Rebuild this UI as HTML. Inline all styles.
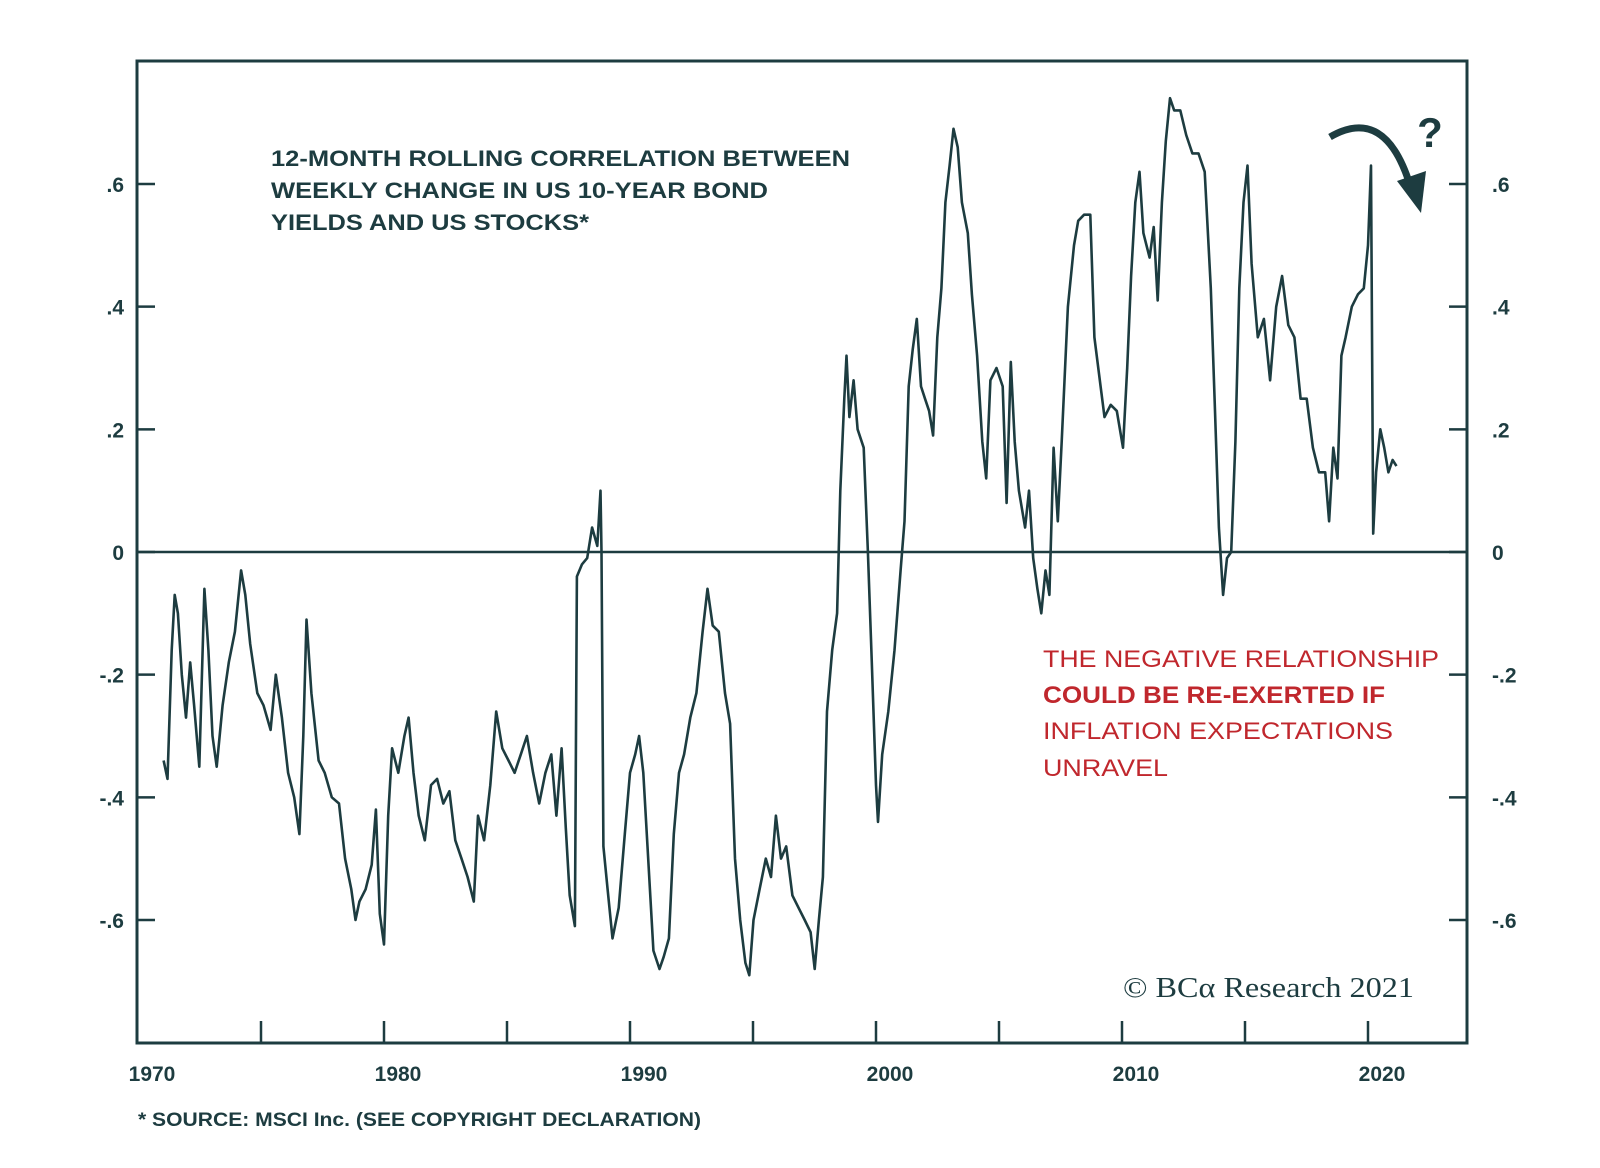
<!DOCTYPE html>
<html><head><meta charset="utf-8"><style>
html,body{margin:0;padding:0;background:#fff;}
svg{display:block;}
</style></head><body>
<svg id="chart" width="1600" height="1168" viewBox="0 0 1600 1168" xmlns="http://www.w3.org/2000/svg">
<g id="axes"></g>
<g id="series"></g>
<text x="271" y="166" font-family="Liberation Sans, sans-serif" font-weight="bold" font-size="22" fill="#1d3c40" textLength="579" lengthAdjust="spacingAndGlyphs">12-MONTH ROLLING CORRELATION BETWEEN</text>
<text x="271" y="198" font-family="Liberation Sans, sans-serif" font-weight="bold" font-size="22" fill="#1d3c40" textLength="497" lengthAdjust="spacingAndGlyphs">WEEKLY CHANGE IN US 10-YEAR BOND</text>
<text x="271" y="230" font-family="Liberation Sans, sans-serif" font-weight="bold" font-size="22" fill="#1d3c40" textLength="318" lengthAdjust="spacingAndGlyphs">YIELDS AND US STOCKS*</text>
<g font-family="Liberation Sans, sans-serif" font-size="24" fill="#c0272d">
<text x="1043" y="667" textLength="396" lengthAdjust="spacingAndGlyphs">THE NEGATIVE RELATIONSHIP</text>
<text x="1043" y="703" font-weight="bold" textLength="342" lengthAdjust="spacingAndGlyphs">COULD BE RE-EXERTED IF</text>
<text x="1043" y="739" textLength="350" lengthAdjust="spacingAndGlyphs">INFLATION EXPECTATIONS</text>
<text x="1043" y="776" textLength="125" lengthAdjust="spacingAndGlyphs">UNRAVEL</text>
</g>
<text x="1123" y="997" font-family="Liberation Serif, serif" font-size="29" fill="#1d3c40" textLength="291" lengthAdjust="spacingAndGlyphs">© BCα Research 2021</text>
<text x="138" y="1126" font-family="Liberation Sans, sans-serif" font-weight="bold" font-size="19" fill="#1d3c40" textLength="563" lengthAdjust="spacingAndGlyphs">* SOURCE: MSCI Inc. (SEE COPYRIGHT DECLARATION)</text>
<path d="M1330,137 Q1385,105 1410,185" fill="none" stroke="#1d3c40" stroke-width="7"/>
<polygon points="1397,181 1426,171 1421,213" fill="#1d3c40"/>
<text x="1430" y="147" text-anchor="middle" font-family="Liberation Sans, sans-serif" font-weight="bold" font-size="42" fill="#1d3c40">?</text>
</svg>
<script>
const years = [1971.04,1971.20,1971.37,1971.49,1971.62,1971.78,1971.95,1972.12,1972.28,1972.49,1972.70,1972.86,1973.03,1973.20,1973.44,1973.69,1973.94,1974.19,1974.36,1974.56,1974.85,1975.10,1975.39,1975.60,1975.85,1976.10,1976.35,1976.56,1976.72,1976.85,1977.05,1977.34,1977.59,1977.88,1978.17,1978.42,1978.67,1978.84,1979.00,1979.25,1979.50,1979.67,1979.83,1980.00,1980.17,1980.33,1980.58,1980.83,1981.00,1981.20,1981.41,1981.66,1981.91,1982.16,1982.41,1982.66,1982.90,1983.15,1983.40,1983.65,1983.82,1984.07,1984.32,1984.56,1984.81,1985.06,1985.31,1985.56,1985.81,1986.06,1986.31,1986.56,1986.80,1987.01,1987.22,1987.39,1987.55,1987.76,1987.84,1988.05,1988.26,1988.46,1988.67,1988.80,1988.84,1988.92,1989.09,1989.29,1989.54,1989.79,1990.00,1990.21,1990.37,1990.54,1990.71,1990.95,1991.20,1991.37,1991.58,1991.78,1991.99,1992.20,1992.45,1992.70,1992.95,1993.15,1993.36,1993.61,1993.86,1994.07,1994.27,1994.48,1994.69,1994.85,1995.02,1995.27,1995.52,1995.73,1995.93,1996.14,1996.35,1996.60,1996.85,1997.10,1997.34,1997.51,1997.68,1997.84,1998.01,1998.22,1998.42,1998.55,1998.71,1998.80,1998.92,1999.09,1999.25,1999.50,1999.67,1999.83,2000.00,2000.08,2000.25,2000.50,2000.75,2001.00,2001.16,2001.33,2001.49,2001.66,2001.83,2001.99,2002.16,2002.32,2002.49,2002.66,2002.82,2002.99,2003.15,2003.32,2003.49,2003.73,2003.90,2004.11,2004.32,2004.48,2004.65,2004.90,2005.15,2005.31,2005.48,2005.64,2005.81,2006.06,2006.22,2006.39,2006.56,2006.72,2006.89,2007.05,2007.22,2007.39,2007.55,2007.80,2008.05,2008.22,2008.46,2008.71,2008.88,2009.13,2009.29,2009.54,2009.79,2010.04,2010.21,2010.37,2010.54,2010.71,2010.87,2011.12,2011.29,2011.45,2011.62,2011.78,2011.95,2012.12,2012.37,2012.61,2012.86,2013.11,2013.36,2013.61,2013.78,2013.94,2014.11,2014.27,2014.44,2014.61,2014.77,2014.94,2015.10,2015.27,2015.52,2015.77,2016.02,2016.27,2016.51,2016.76,2017.01,2017.26,2017.51,2017.76,2018.01,2018.26,2018.42,2018.59,2018.76,2018.92,2019.09,2019.34,2019.59,2019.83,2020.00,2020.12,2020.21,2020.33,2020.50,2020.66,2020.83,2021.00,2021.16];
const correlation = [-0.34,-0.37,-0.16,-0.07,-0.10,-0.20,-0.27,-0.18,-0.25,-0.35,-0.06,-0.16,-0.30,-0.35,-0.25,-0.18,-0.13,-0.03,-0.07,-0.15,-0.23,-0.25,-0.29,-0.20,-0.27,-0.36,-0.40,-0.46,-0.30,-0.11,-0.23,-0.34,-0.36,-0.40,-0.41,-0.50,-0.55,-0.60,-0.57,-0.55,-0.51,-0.42,-0.59,-0.64,-0.43,-0.32,-0.36,-0.30,-0.27,-0.36,-0.43,-0.47,-0.38,-0.37,-0.41,-0.39,-0.47,-0.50,-0.53,-0.57,-0.43,-0.47,-0.38,-0.26,-0.32,-0.34,-0.36,-0.33,-0.30,-0.36,-0.41,-0.36,-0.33,-0.43,-0.32,-0.45,-0.56,-0.61,-0.04,-0.02,-0.01,0.04,0.01,0.10,0.00,-0.48,-0.55,-0.63,-0.58,-0.46,-0.36,-0.33,-0.30,-0.36,-0.48,-0.65,-0.68,-0.66,-0.63,-0.46,-0.36,-0.33,-0.27,-0.23,-0.13,-0.06,-0.12,-0.13,-0.23,-0.28,-0.50,-0.60,-0.67,-0.69,-0.60,-0.55,-0.50,-0.53,-0.43,-0.50,-0.48,-0.56,-0.58,-0.60,-0.62,-0.68,-0.60,-0.53,-0.26,-0.16,-0.10,0.10,0.25,0.32,0.22,0.28,0.20,0.17,0.00,-0.18,-0.38,-0.44,-0.33,-0.26,-0.16,-0.03,0.05,0.27,0.33,0.38,0.27,0.25,0.23,0.19,0.35,0.43,0.57,0.63,0.69,0.66,0.57,0.52,0.42,0.32,0.18,0.12,0.28,0.30,0.27,0.08,0.31,0.18,0.10,0.04,0.10,-0.01,-0.06,-0.10,-0.03,-0.07,0.17,0.05,0.18,0.40,0.50,0.54,0.55,0.55,0.35,0.27,0.22,0.24,0.23,0.17,0.30,0.45,0.57,0.62,0.52,0.48,0.53,0.41,0.57,0.67,0.74,0.72,0.72,0.68,0.65,0.65,0.62,0.43,0.23,0.04,-0.07,-0.01,0.00,0.18,0.43,0.57,0.63,0.47,0.35,0.38,0.28,0.40,0.45,0.37,0.35,0.25,0.25,0.17,0.13,0.13,0.05,0.17,0.12,0.32,0.35,0.40,0.42,0.43,0.50,0.63,0.03,0.13,0.20,0.17,0.13,0.15,0.14];
const yTicks = [-0.6,-0.4,-0.2,0,0.2,0.4,0.6];
const yTickLabels = ["-.6","-.4","-.2","0",".2",".4",".6"];
const xTickYears = [1975,1980,1985,1990,1995,2000,2005,2010,2015,2020];
const xLabelYears = [1970,1980,1990,2000,2010,2020];

const L=137,R=1467,T=61,B=1043;
const X0=1970,XPX=24.6;
function xs(yr){return 138+(yr-X0)*XPX;}
function ys(v){return 552 - v*613.3;}
const NS='http://www.w3.org/2000/svg';
const C='#1d3c40';
function mk(tag,attrs,parent){const e=document.createElementNS(NS,tag);for(const k in attrs)e.setAttribute(k,attrs[k]);parent.appendChild(e);return e;}
const axes=document.getElementById('axes');
const frame=mk('rect',{x:L,y:T,width:R-L,height:B-T,fill:'none',stroke:C,'stroke-width':3},axes);


const zl=mk('line',{x1:L,x2:R,y1:ys(0),y2:ys(0),stroke:C,'stroke-width':2.5},axes);


yTicks.forEach((v,i)=>{
  const y=ys(v);
  const t1=mk('line',{x1:L,x2:L+18,y1:y,y2:y,stroke:C,'stroke-width':2.5},axes);
  
  
  const t2=mk('line',{x1:R-18,x2:R,y1:y,y2:y,stroke:C,'stroke-width':2.5},axes);
  
  
  const a=mk('text',{x:124,y:y+8,'text-anchor':'end','font-family':'Liberation Sans, sans-serif','font-weight':'bold','font-size':21,fill:C},axes);
  a.textContent=yTickLabels[i];
  
  
  const b=mk('text',{x:1492,y:y+8,'text-anchor':'start','font-family':'Liberation Sans, sans-serif','font-weight':'bold','font-size':21,fill:C},axes);
  b.textContent=yTickLabels[i];
  
  
});
xTickYears.forEach(yr=>{
  const t=mk('line',{x1:xs(yr),x2:xs(yr),y1:B,y2:B-22,stroke:C,'stroke-width':2.5},axes);
  
  
});
xLabelYears.forEach(yr=>{
  const t=mk('text',{x:xs(yr)+14,y:1081,'text-anchor':'middle','font-family':'Liberation Sans, sans-serif','font-weight':'bold','font-size':21,fill:C},axes);
  t.textContent=String(yr);
  
  
});
const series=document.getElementById('series');
let d='';
years.forEach((yr,i)=>{d+=(i?'L':'M')+xs(yr).toFixed(1)+','+ys(correlation[i]).toFixed(1);});
const line=mk('path',{d:d,fill:'none',stroke:C,'stroke-width':2.6,'stroke-linejoin':'round'},series);


</script>
</body></html>
